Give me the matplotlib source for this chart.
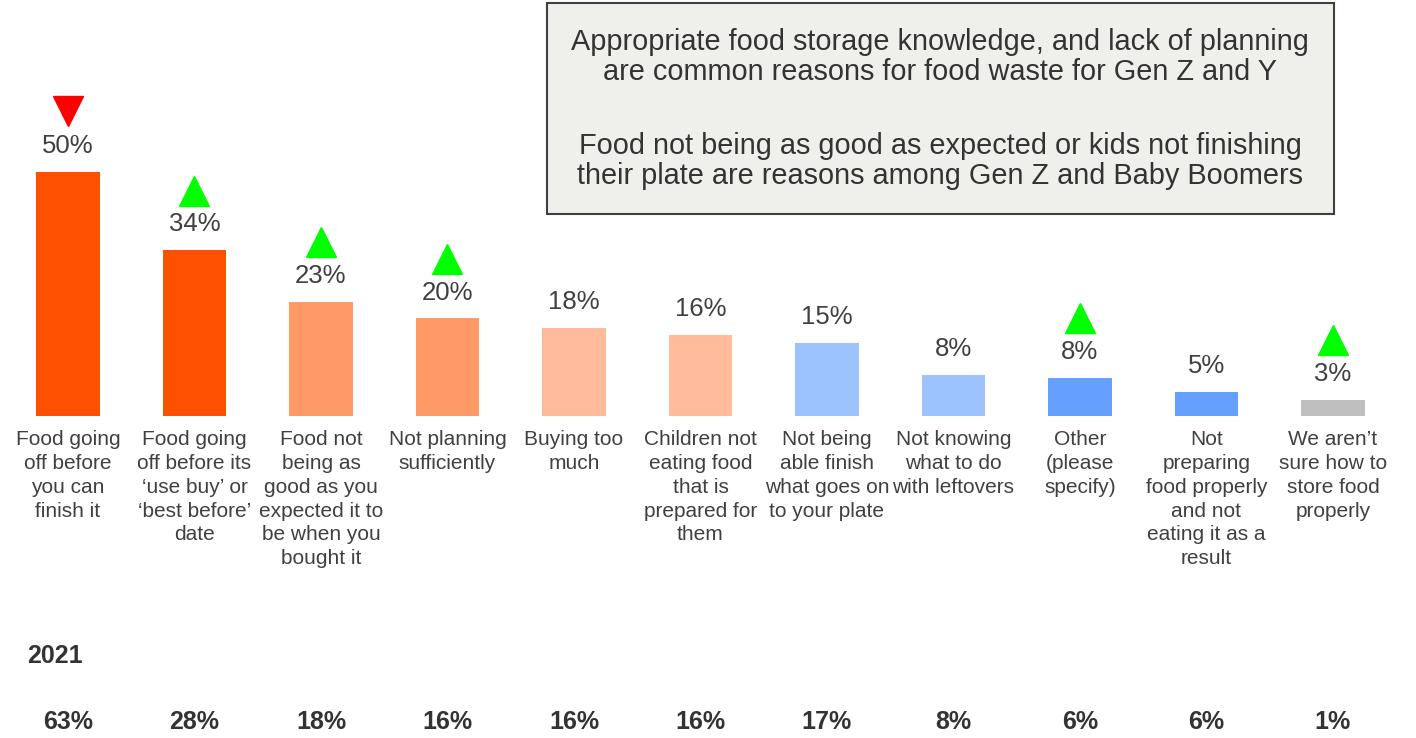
import matplotlib
matplotlib.use("Agg")
import matplotlib.pyplot as plt
from matplotlib.patches import Rectangle

plt.rcParams['font.family'] = ['Liberation Sans', 'DejaVu Sans']

# reasons for food waste, current wave
categories = [
    "Food going\noff before\nyou can\nfinish it",
    "Food going\noff before its\n\u2018use buy\u2019 or\n\u2018best before\u2019\ndate",
    "Food not\nbeing as\ngood as you\nexpected it to\nbe when you\nbought it",
    "Not planning\nsufficiently",
    "Buying too\nmuch",
    "Children not\neating food\nthat is\nprepared for\nthem",
    "Not being\nable finish\nwhat goes on\nto your plate",
    "Not knowing\nwhat to do\nwith leftovers",
    "Other\n(please\nspecify)",
    "Not\npreparing\nfood properly\nand not\neating it as a\nresult",
    "We aren\u2019t\nsure how to\nstore food\nproperly",
]
values = [50, 34, 23.4, 20, 18, 16.6, 15, 8.4, 7.8, 5, 3.3]
value_labels = ["50%", "34%", "23%", "20%", "18%", "16%", "15%", "8%", "8%", "5%", "3%"]
values_2021 = ["63%", "28%", "18%", "16%", "16%", "16%", "17%", "8%", "6%", "6%", "1%"]
# change vs 2021: -1 down, 1 up, 0 none
changes = [-1, 1, 1, 1, 0, 0, 0, 0, 1, 0, 1]
colors = ["#FF5000", "#FF5000", "#FF9966", "#FF9966", "#FFBB9A", "#FFBB9A",
          "#9DC3FF", "#9DC3FF", "#66A0FF", "#66A0FF", "#BFBFBF"]

box_lines_1 = ("Appropriate food storage knowledge, and lack of planning\n"
               "are common reasons for food waste for Gen Z and Y")
box_lines_2 = ("Food not being as good as expected or kids not finishing\n"
               "their plate are reasons among Gen Z and Baby Boomers")

fig = plt.figure(figsize=(14.16, 7.38), dpi=100)
ax = fig.add_axes([0, 0, 1, 1])
ax.set_xlim(-68 / 126.5, (1416 - 68) / 126.5)
ax.set_ylim(-(738 - 416) / 4.88, 416 / 4.88)
ax.axis("off")

x = list(range(len(categories)))
ax.bar(x, values, width=0.5, color=colors)

txt = "#404040"
for i, v in enumerate(values):
    ax.text(i, v + 5.3, value_labels[i], ha="center", va="center", fontsize=18.5, color=txt)
    if changes[i] == 1:
        ax.plot(i, v + 12.2, marker="^", markersize=22, color="#00FF00", linestyle="none")
    elif changes[i] == -1:
        ax.plot(i, v + 12.6, marker="v", markersize=22, color="#FF0000", linestyle="none")
    ax.text(i, -2.9, categories[i], ha="center", va="top", fontsize=15,
            color=txt, linespacing=1.32)
    ax.text(i, -62.7, values_2021[i], ha="center", va="center", fontsize=18,
            fontweight="bold", color="#333333")

ax.text(-0.324, -49.2, "2021", ha="left", va="center", fontsize=18,
        fontweight="bold", color="#333333")

# callout box
fig.patches.append(Rectangle((547 / 1416, 1 - 214 / 738), 787 / 1416, 211 / 738,
                             transform=fig.transFigure, facecolor="#EFEFEB",
                             edgecolor="#404040", linewidth=1.5))
fig.text(940 / 1416, 1 - 57 / 738, box_lines_1, ha="center", va="center", fontsize=20.8,
         color="#333333", linespacing=1.09)
fig.text(940 / 1416, 1 - 161 / 738, box_lines_2, ha="center", va="center", fontsize=20.8,
         color="#333333", linespacing=1.09)

fig.savefig("out.png", dpi=100)
